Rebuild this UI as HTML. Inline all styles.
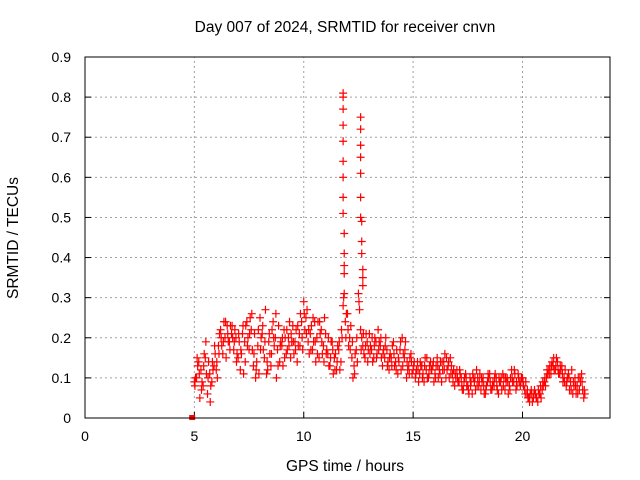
<!DOCTYPE html>
<html><head><meta charset="utf-8"><style>
body{margin:0;background:#fff}
svg{display:block;font-family:"Liberation Sans",sans-serif}
</style></head><body>
<svg id="chart" width="640" height="480" viewBox="0 0 640 480">
<rect width="640" height="480" fill="#fff"/>
<text x="345" y="32" font-size="15.5" text-anchor="middle">Day 007 of 2024, SRMTID for receiver cnvn</text>
<text x="345" y="471" font-size="15.5" text-anchor="middle">GPS time / hours</text>
<text x="18" y="238" font-size="15.5" text-anchor="middle" transform="rotate(-90 18 238)">SRMTID / TECUs</text>
<g id="grid"></g><g id="ticks"></g><g id="marks"></g>
<rect x="85" y="57" width="525" height="361" fill="none" stroke="#000" stroke-width="1"/>
</svg>
<script>
const xTicks=[0,5,10,15,20];
const yTicks=[0,0.1,0.2,0.3,0.4,0.5,0.6,0.7,0.8,0.9];
const yTickLabels=["0","0.1","0.2","0.3","0.4","0.5","0.6","0.7","0.8","0.9"];
const seriesStart=5.0;
const seriesStep=0.1;
const valsA=[.09,.10,.14,.12,.08,.15,.06,.11,.09,.13,
.12,.18,.22,.16,.20,.23,.19,.21,.17,.20,
.15,.12,.21,.19,.24,.17,.22,.13,.10,.18,
.25,.21,.15,.11,.19,.13,.24,.20,.17,.14,
.18,.22,.16,.20,.15,.23,.19,.14,.21,.24,
.29,.25,.19,.21,.17,.24,.20,.15,.22,.18,
.21,.16,.13,.19,.15,.12,.17,.14,.28,.24,
.26,.20,.15,.13,.17,.31,.22,.18,.15,.19,
.21,.17,.15,.19,.22,.18,.13,.15,.17,.12,
.15,.19,.14,.11,.17,.20,.15,.10,.13,.16,
.12,.10,.14,.11,.13,.09,.12,.10,.14,.13,
.11,.15,.12,.09,.14,.10,.13,.15,.11,.08,
.12,.09,.10,.07,.11,.08,.10,.06,.09,.12,
.08,.07,.10,.06,.09,.11,.07,.08,.10,.06,
.09,.11,.07,.10,.08,.12,.09,.07,.11,.08,
.10,.07,.06,.05,.07,.05,.06,.04,.06,.07,
.09,.10,.12,.11,.13,.12,.14,.11,.13,.10,
.08,.11,.09,.06,.10,.08,.07,.11,.05];
const valsB=[.10,.13,.05,.09,.16,.11,.14,.08,.12,.16,
.10,.21,.18,.24,.15,.19,.23,.20,.22,.16,
.19,.16,.11,.23,.20,.25,.17,.21,.14,.11,
.20,.17,.27,.12,.16,.22,.18,.10,.23,.19,
.13,.20,.17,.24,.19,.16,.22,.18,.26,.17,
.22,.27,.16,.23,.19,.14,.24,.21,.16,.25,
.17,.13,.19,.11,.16,.18,.12,.20,.31,.26,
.18,.23,.10,.16,.14,.27,.20,.16,.21,.17,
.18,.14,.20,.16,.19,.15,.17,.20,.14,.16,
.18,.13,.17,.14,.12,.16,.19,.12,.15,.11,
.14,.12,.09,.13,.11,.15,.10,.13,.12,.09,
.13,.10,.14,.12,.16,.12,.10,.13,.12,.10,
.09,.11,.07,.10,.08,.06,.09,.10,.07,.10,
.11,.09,.06,.08,.10,.07,.09,.11,.07,.09,
.07,.10,.09,.06,.10,.09,.11,.08,.09,.10,
.08,.09,.05,.06,.04,.07,.05,.06,.05,.08,
.08,.11,.13,.14,.12,.15,.11,.12,.09,.12,
.10,.07,.12,.08,.06,.10,.09,.07,.06];
const valsC=[.08,.15,.11,.07,.13,.19,.10,.04,.14,.18,
.14,.16,.20,.19,.24,.21,.17,.23,.19,.14,
.21,.17,.23,.14,.18,.21,.26,.16,.12,.22,
.17,.23,.19,.14,.21,.16,.20,.26,.13,.18,
.20,.15,.22,.18,.21,.19,.17,.23,.18,.20,
.26,.21,.22,.17,.25,.19,.16,.24,.19,.14,
.16,.20,.15,.17,.12,.14,.19,.22,.30,.20,
.22,.17,.19,.11,.20,.29,.17,.21,.18,.14,
.16,.20,.18,.15,.17,.20,.16,.18,.13,.15,
.13,.16,.12,.15,.19,.13,.17,.14,.11,.14,
.13,.11,.12,.14,.10,.13,.15,.11,.12,.14,
.10,.13,.11,.14,.12,.15,.14,.11,.09,.11,
.10,.12,.08,.09,.10,.07,.08,.11,.10,.08,
.09,.10,.08,.07,.11,.09,.08,.10,.08,.10,
.10,.08,.10,.09,.07,.10,.12,.09,.10,.09,
.09,.06,.07,.04,.06,.06,.05,.07,.08,.09,
.10,.12,.11,.13,.15,.13,.12,.13,.11,.09,
.09,.10,.07,.09,.08,.06,.10,.09,.07];
const spikeTimes=[11.8,11.8,11.8,11.8,11.8,11.8,11.8,11.8,11.8,11.85,11.85,11.85,11.85,12.6,12.6,12.6,12.6,12.6,12.6,12.6,12.65,12.65,12.65,12.7,12.7,12.7];
const spikeVals=[.81,.80,.77,.73,.69,.64,.60,.55,.51,.46,.41,.38,.36,.75,.72,.68,.65,.61,.55,.50,.49,.44,.41,.37,.35,.33];
const zeroTimes=[4.9];
const zeroVals=[0.0];

const X0=85,X1=610,Y0=418,Y1=57;
function xs(t){return X0+(t/24)*(X1-X0);}
function ys(v){return Y0-(v/0.9)*(Y0-Y1);}
const NS="http://www.w3.org/2000/svg";
function mk(tag,attrs,parent){const e=document.createElementNS(NS,tag);for(const k in attrs)e.setAttribute(k,attrs[k]);parent.appendChild(e);return e;}
const grid=document.getElementById('grid'),ticks=document.getElementById('ticks'),marks=document.getElementById('marks');
xTicks.forEach(t=>{
  const x=xs(t);
  if(t>0){const g=mk('line',{x1:x,y1:Y0,x2:x,y2:Y1,stroke:'#a0a0a0','stroke-dasharray':'2,3'},grid);
  
  }
  const tl=mk('line',{x1:x,y1:Y0,x2:x,y2:Y0-6,stroke:'#000'},ticks);
  
  
  const tx=mk('text',{x:x,y:Y0+23,'font-size':14,'text-anchor':'middle'},ticks);tx.textContent=t;
  
  
});
yTicks.forEach((v,i)=>{
  const y=ys(v);
  if(v>0&&v<0.9){const g=mk('line',{x1:X0,y1:y,x2:X1,y2:y,stroke:'#a0a0a0','stroke-dasharray':'2,3'},grid);
  
  }
  const tl=mk('line',{x1:X0,y1:y,x2:X0+6,y2:y,stroke:'#000'},ticks);
  
  
  const tr=mk('line',{x1:X1,y1:y,x2:X1-6,y2:y,stroke:'#000'},ticks);
  
  
  const tx=mk('text',{x:X0-14,y:y+5,'font-size':14,'text-anchor':'end'},ticks);tx.textContent=yTickLabels[i];
  
  
});
function cross(t,v,color){
  const x=xs(t),y=ys(v);
  const p=mk('path',{d:`M${x-4},${y}H${x+4}M${x},${y-4}V${y+4}`,stroke:color,'stroke-width':1.2,fill:'none'},marks);
  
  
}
valsA.forEach((v,i)=>cross(seriesStart+i*seriesStep,v,'#ff0000'));
valsB.forEach((v,i)=>cross(seriesStart+i*seriesStep+0.05,v,'#ff0000'));
valsC.forEach((v,i)=>cross(seriesStart+i*seriesStep+0.025,v,'#ff0000'));
spikeTimes.forEach((t,i)=>cross(t,spikeVals[i],'#ff0000'));
zeroTimes.forEach((t,i)=>{
  const r=mk('rect',{x:xs(t)-3,y:ys(zeroVals[i])-3,width:6,height:5,fill:'#ff0000'},marks);
  
  
});
</script>
</body></html>
